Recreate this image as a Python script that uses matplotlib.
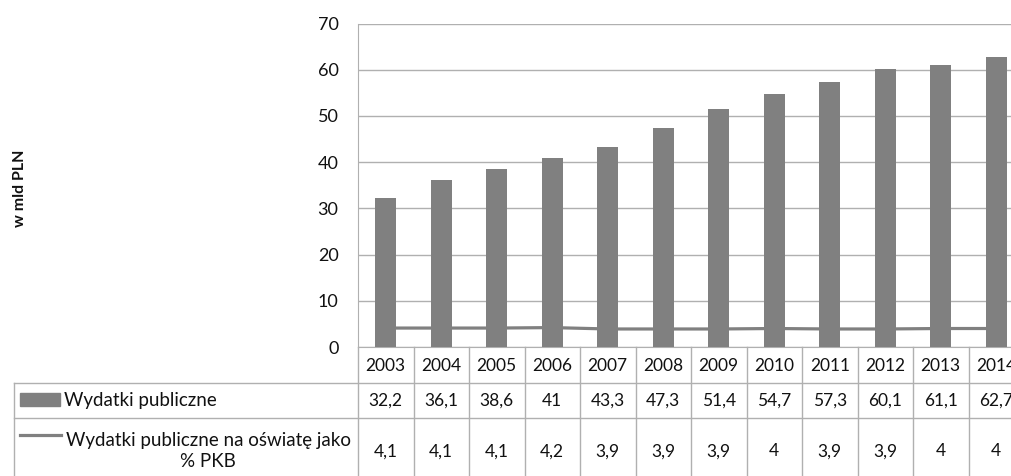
import matplotlib.pyplot as plt
import matplotlib.transforms as mtransforms
from matplotlib.lines import Line2D
from matplotlib.patches import Rectangle

years = ['2003', '2004', '2005', '2006', '2007', '2008', '2009', '2010',
         '2011', '2012', '2013', '2014']
wydatki = [32.2, 36.1, 38.6, 41.0, 43.3, 47.3, 51.4, 54.7, 57.3, 60.1, 61.1, 62.7]
pkb_proc = [4.1, 4.1, 4.1, 4.2, 3.9, 3.9, 3.9, 4.0, 3.9, 3.9, 4.0, 4.0]
label_bar = 'Wydatki publiczne'
label_line = 'Wydatki publiczne na oświatę jako\n% PKB'

W, H = 1011, 476
GRAY = '#808080'
GRID = '#b0b0b0'
TXT = '#111111'
FONT = 'Lato'
plt.rcParams['font.family'] = [FONT, 'DejaVu Sans']


def fy(y):
    # pixel row from the top -> figure fraction
    return 1 - y / H


def fx(x):
    return x / W


fig = plt.figure(figsize=(W / 100, H / 100), dpi=100)
ax_left, ax_top, ax_bottom = 358, 23.5, 347
cell = 55.5
ax = fig.add_axes([fx(ax_left), fy(ax_bottom), fx(cell * len(years)),
                   (ax_bottom - ax_top) / H])

x = list(range(len(years)))
ax.plot(x, pkb_proc, color=GRAY, lw=2.3, zorder=2, solid_capstyle='butt')
ax.bar(x, wydatki, width=0.38, color=GRAY, zorder=3)

ax.set_xlim(-0.5, len(years) - 0.5)
ax.set_ylim(0, 70)
ax.set_yticks(range(0, 71, 10))
ax.set_xticks([])
ax.tick_params(axis='y', length=0, pad=14, labelsize=13, labelcolor=TXT)
ax.yaxis.grid(True, color=GRID, lw=1)
ax.set_axisbelow(True)
for s in ['top', 'right']:
    ax.spines[s].set_visible(False)
ax.spines['left'].set_color(GRID)
ax.spines['bottom'].set_color(GRID)

fig.text(fx(20), fy(188), 'w mld PLN', rotation=90, ha='center', va='center',
         fontsize=11.5, fontweight='bold', color=TXT)

# data table under the axis
blend = mtransforms.blended_transform_factory(ax.transData, fig.transFigure)
row1_top, row2_top, tab_bottom = 382.7, 418, 476
line_kw = dict(color=GRID, lw=1)

for i in range(len(years) + 1):
    fig.add_artist(Line2D([i - 0.5, i - 0.5], [fy(ax_bottom), fy(tab_bottom)],
                          transform=blend, **line_kw))
for yy in (row1_top, row2_top):
    fig.add_artist(Line2D([fx(14), 1.05], [fy(yy), fy(yy)],
                          transform=fig.transFigure, **line_kw))
fig.add_artist(Line2D([fx(14), fx(14)], [fy(row1_top), fy(tab_bottom)],
                      transform=fig.transFigure, **line_kw))


def fmt(v):
    return f'{v:g}'.replace('.', ',')


for i, yr in enumerate(years):
    fig.text(i, fy(366), yr, transform=blend, ha='center', va='center',
             fontsize=12.5, color=TXT)
    fig.text(i, fy(400.5), fmt(wydatki[i]), transform=blend, ha='center',
             va='center', fontsize=12.5, color=TXT)
    fig.text(i, fy(451.5), fmt(pkb_proc[i]), transform=blend, ha='center',
             va='center', fontsize=12.5, color=TXT)

# legend keys
fig.add_artist(Rectangle((fx(20), fy(406)), fx(40), (406 - 392.7) / H,
                         transform=fig.transFigure, color=GRAY))
fig.add_artist(Line2D([fx(20), fx(61)], [fy(435), fy(435)],
                      transform=fig.transFigure, color=GRAY, lw=2.3))
fig.text(fx(64), fy(400.5), label_bar, ha='left', va='center',
         fontsize=13.5, color=TXT)
fig.text(fx(208), fy(451), label_line, ha='center', va='center',
         fontsize=13.5, color=TXT, linespacing=1.25, multialignment='center')

fig.savefig('out.png', dpi=100)
